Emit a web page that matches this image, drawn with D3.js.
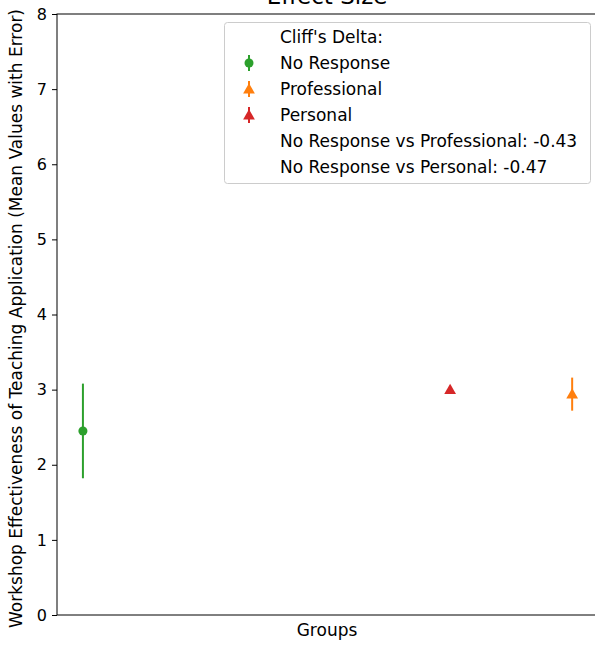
<!DOCTYPE html>
<html>
<head>
<meta charset="utf-8">
<script src="https://cdn.jsdelivr.net/npm/d3@7"></script>
<style>
  body { margin: 0; background: #fff; }
  svg { display: block; font-family: "DejaVu Sans", sans-serif; }
</style>
</head>
<body>
<svg id="chart" width="595" height="645"></svg>
<script>
// Group means with their error half-widths
const groups = ["No Response", "Personal", "Professional"];
const groupPos = [0.048, 0.728, 0.954];
const means = [2.45, 3.0, 2.94];
const errors = [0.63, 0.0, 0.22];
const colors = ["#2ca02c", "#d62728", "#ff7f0e"];
const shapes = ["circle", "triangle", "triangle"];

// Legend entries
const legendTitle = "Cliff's Delta:";
const legendGroups = ["No Response", "Professional", "Personal"];
const deltaLabels = ["No Response vs Professional: -0.43", "No Response vs Personal: -0.47"];

const yTicks = [0, 1, 2, 3, 4, 5, 6, 7, 8];

const svg = d3.select("#chart");
const margin = { left: 57, right: -2, top: 14, bottom: 30 };
const W = 595, H = 645;
const labelSize = 17, tickSize = 16, titleSize = 23;

const x = d3.scaleLinear().domain([0, 1]).range([margin.left, W - margin.right]);
const y = d3.scaleLinear().domain([0, 8]).range([H - margin.bottom, margin.top]);

// frame
svg.append("rect")
  .attr("x", x(0)).attr("y", y(8))
  .attr("width", x(1) - x(0)).attr("height", y(0) - y(8))
  .attr("fill", "none").attr("stroke", "#000").attr("stroke-width", 1);

// y axis
const yAxis = d3.axisLeft(y).tickValues(yTicks).tickSize(5).tickPadding(5).tickFormat(d3.format("d"));
const ya = svg.append("g").attr("transform", `translate(${x(0)},0)`).call(yAxis);
ya.select(".domain").remove();
ya.selectAll("text").attr("font-size", tickSize).attr("fill", "#000").attr("font-family", "DejaVu Sans");
ya.selectAll("line").attr("stroke", "#000");

// axis labels and title
svg.append("text")
  .attr("transform", `translate(22,${(y(0) + y(8)) / 2 + 4}) rotate(-90)`)
  .attr("text-anchor", "middle").attr("font-size", labelSize).text("Workshop Effectiveness of Teaching Application (Mean Values with Error)");
svg.append("text")
  .attr("x", (x(0) + x(1)) / 2).attr("y", 636)
  .attr("text-anchor", "middle").attr("font-size", labelSize).text("Groups");
svg.append("text")
  .attr("x", (x(0) + x(1)) / 2).attr("y", 4)
  .attr("text-anchor", "middle").attr("font-size", titleSize).text("Effect Size");

const tri = d3.symbol().type(d3.symbolTriangle).size(60);
const circ = d3.symbol().type(d3.symbolCircle).size(64);

// error bars and markers
const plot = svg.append("g");
groups.forEach((g, i) => {
  const cx = x(groupPos[i]);
  if (errors[i] > 0) {
    plot.append("line")
      .attr("x1", cx).attr("x2", cx)
      .attr("y1", y(means[i] - errors[i])).attr("y2", y(means[i] + errors[i]))
      .attr("stroke", colors[i]).attr("stroke-width", 2);
  }
  plot.append("path")
    .attr("d", shapes[i] === "circle" ? circ() : tri())
    .attr("transform", `translate(${cx},${y(means[i]) + (shapes[i] === "circle" ? 0 : 1)})`)
    .attr("fill", colors[i]);
});

// legend
const lg = svg.append("g");
lg.append("rect")
  .attr("x", 224.5).attr("y", 22.5).attr("width", 366).attr("height", 161)
  .attr("rx", 3).attr("fill", "#fff").attr("fill-opacity", 0.8)
  .attr("stroke", "#cccccc").attr("stroke-width", 1);
const rowY = i => 37 + i * 26;
const textX = 280, markX = 249;
lg.append("text").attr("x", textX).attr("y", rowY(0) + 6).attr("font-size", labelSize).text(legendTitle);
legendGroups.forEach((g, j) => {
  const i = groups.indexOf(g);
  const cy = rowY(j + 1);
  lg.append("line").attr("x1", markX).attr("x2", markX).attr("y1", cy - 8).attr("y2", cy + 8)
    .attr("stroke", colors[i]).attr("stroke-width", 2);
  lg.append("path").attr("d", shapes[i] === "circle" ? circ() : tri())
    .attr("transform", `translate(${markX},${cy + (shapes[i] === "circle" ? 0 : 1)})`)
    .attr("fill", colors[i]);
  lg.append("text").attr("x", textX).attr("y", cy + 6).attr("font-size", labelSize).text(g);
});
deltaLabels.forEach((t, k) => {
  lg.append("text").attr("x", textX).attr("y", rowY(4 + k) + 6).attr("font-size", labelSize).text(t);
});
</script>
</body>
</html>
